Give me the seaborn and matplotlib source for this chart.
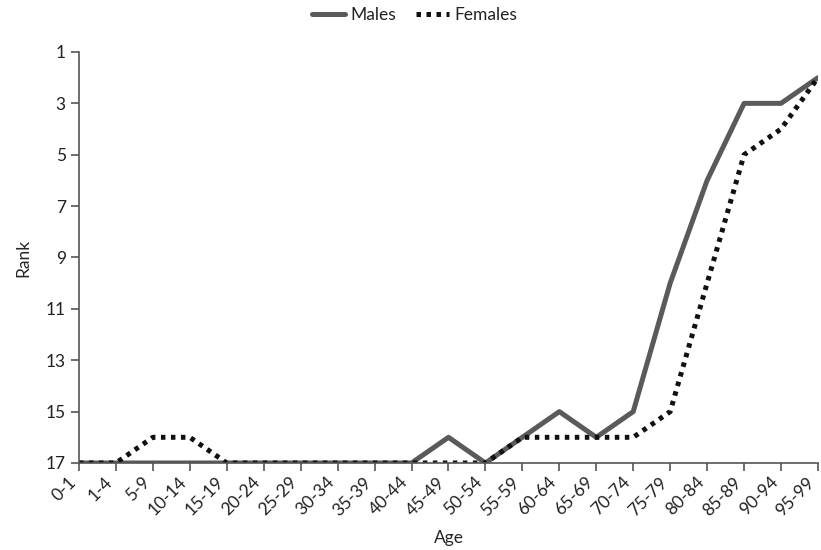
import pandas as pd
import seaborn as sns
import matplotlib.pyplot as plt

ages = ['0-1', '1-4', '5-9', '10-14', '15-19', '20-24', '25-29', '30-34', '35-39',
        '40-44', '45-49', '50-54', '55-59', '60-64', '65-69', '70-74', '75-79',
        '80-84', '85-89', '90-94', '95-99']
males = [17, 17, 17, 17, 17, 17, 17, 17, 17, 17, 16, 17, 16, 15, 16, 15, 10, 6, 3, 3, 2]
females = [17, 17, 16, 16, 17, 17, 17, 17, 17, 17, 17, 17, 16, 16, 16, 16, 15, 10, 5, 4, 2]
rank_ticks = [1, 3, 5, 7, 9, 11, 13, 15, 17]

df = pd.DataFrame({'Age': ages * 2,
                   'Rank': males + females,
                   'Sex': ['Males'] * len(ages) + ['Females'] * len(ages)})

sns.set_style('white')
plt.rcParams['font.family'] = ['Lato', 'DejaVu Sans']
plt.rcParams['text.color'] = '#222222'

fig = plt.figure(figsize=(8.21, 5.5), dpi=100)
ax = fig.add_axes([0.0962, 0.1582, 0.9001, 0.7473])

palette = {'Males': '#5a5a5a', 'Females': '#111111'}
dot = (0.9, 1.1)
sns.lineplot(data=df, x='Age', y='Rank', hue='Sex', style='Sex',
             palette=palette, dashes={'Males': '', 'Females': dot},
             linewidth=3.6, sort=False, ax=ax, legend=False)

ax.set_ylim(17, 1)
ax.set_xlim(0, len(ages) - 1)
ax.set_yticks(rank_ticks)
ax.set_xticks(range(len(ages)))
ax.set_xticklabels(ages, rotation=45, ha='right', va='top', rotation_mode='default')
ax.tick_params(axis='both', labelsize=12.5, labelcolor='#222222', color='#555555',
               length=6, width=1.2, direction='out', bottom=True, left=True)
ax.tick_params(axis='x', pad=2)
ax.set_xlabel('Age', fontsize=12.5, labelpad=8)
ax.set_ylabel('Rank', fontsize=12.5, labelpad=10)

for side in ['top', 'right']:
    ax.spines[side].set_visible(False)
for side in ['left', 'bottom']:
    ax.spines[side].set_color('#555555')
    ax.spines[side].set_linewidth(1.2)

handles = [plt.Line2D([], [], color=palette['Males'], lw=3.6),
           plt.Line2D([], [], color=palette['Females'], lw=3.6, linestyle=(0, dot))]
fig.legend(handles, ['Males', 'Females'], loc='upper center', ncol=2, frameon=False,
           bbox_to_anchor=(0.505, 1.015), fontsize=12.5, handlelength=1.9,
           columnspacing=1.2, handletextpad=0.3)

fig.savefig('out.png', dpi=100)
